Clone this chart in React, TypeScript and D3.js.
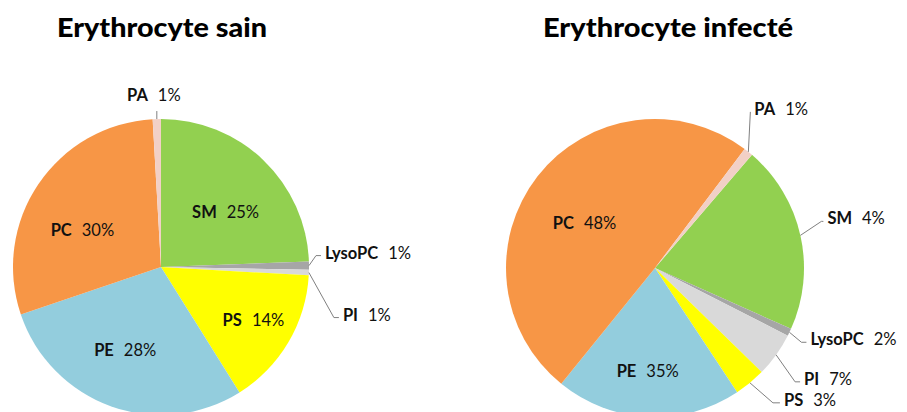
import React, { useEffect, useRef } from 'react';
import * as d3 from 'd3';

const lipids = ['SM', 'LysoPC', 'PI', 'PS', 'PE', 'PC', 'PA'];
const colors = ['#92D050', '#A6A6A6', '#D9D9D9', '#FFFF00', '#93CDDD', '#F79646', '#F2D0C6'];

// slice sizes as they are drawn (%)
const sainSlices = [24.4, 0.9, 0.6, 15.2, 28.7, 29.3, 0.9];
const infecteSlices = [20.4, 0.8, 4.8, 3.4, 20.1, 49.4, 1.0];

// percentages printed on the labels
const sainLabels = ['25%', '1%', '1%', '14%', '28%', '30%', '1%'];
const infecteLabels = ['4%', '2%', '7%', '3%', '35%', '48%', '1%'];

const titles = ['Erythrocyte sain', 'Erythrocyte infecté'];

// label placement: 'in' = nudge from centroid, 'out' = elbow offset from arc edge, 'top' = text above
const sainLayout = [
  { mode: 'in', dx: 3, dy: 9 },
  { mode: 'out', dx: 7, dy: -10, stub: 5 },
  { mode: 'out', dx: 25, dy: 45, stub: 5 },
  { mode: 'in', dx: 16, dy: 8 },
  { mode: 'in', dx: -6, dy: -1 },
  { mode: 'in', dx: -5, dy: 13 },
  { mode: 'top', dx: 0, dy: -8, stub: 0 },
];
const infecteLayout = [
  { mode: 'out', dx: 21, dy: -14, stub: 2 },
  { mode: 'out', dx: 12, dy: 10, stub: 5 },
  { mode: 'out', dx: 19, dy: 27, stub: 5 },
  { mode: 'out', dx: 23, dy: 20, stub: 7 },
  { mode: 'in', dx: -3, dy: 14 },
  { mode: 'in', dx: 0, dy: 10 },
  { mode: 'out', dx: 2, dy: -40, stub: 0 },
];

const FONT = 'Lato, sans-serif';

function App() {
  const svgRef = useRef(null);

  useEffect(() => {
    const width = 907;
    const height = 412;
    const svg = d3.select(svgRef.current);
    svg.selectAll('*').remove();
    svg.attr('width', width).attr('height', height);

    svg.append('rect').attr('width', width).attr('height', height).attr('fill', '#fff');

    const pies = [
      { title: titles[0], slices: sainSlices, labels: sainLabels, layout: sainLayout,
        cx: 161, cy: 267, r: 148, start: 0, titleX: 162, titleW: 210 },
      { title: titles[1], slices: infecteSlices, labels: infecteLabels, layout: infecteLayout,
        cx: 655, cy: 268, r: 149, start: 40.6, titleX: 668, titleW: 250 },
    ];

    pies.forEach((p) => {
      svg.append('text')
        .attr('x', p.titleX)
        .attr('y', 37)
        .attr('text-anchor', 'middle')
        .attr('font-family', FONT)
        .attr('font-weight', 900)
        .attr('font-size', 27)
        .attr('textLength', p.titleW)
        .attr('lengthAdjust', 'spacingAndGlyphs')
        .attr('fill', '#000')
        .text(p.title);

      const a0 = (p.start * Math.PI) / 180;
      const pie = d3.pie<number>().sort(null).value((d) => d).startAngle(a0).endAngle(a0 + 2 * Math.PI);
      const arcs = pie(p.slices);
      const arc = d3.arc<d3.PieArcDatum<number>>().innerRadius(0).outerRadius(p.r);
      const labelArc = d3.arc<d3.PieArcDatum<number>>().innerRadius(p.r * 0.6).outerRadius(p.r * 0.6);

      const g = svg.append('g').attr('transform', `translate(${p.cx},${p.cy})`);

      g.selectAll('path.slice')
        .data(arcs)
        .enter()
        .append('path')
        .attr('class', 'slice')
        .attr('d', arc)
        .attr('fill', (d, i) => colors[i]);

      arcs.forEach((d, i) => {
        const lay = p.layout[i];
        const t = g.append('text')
          .attr('font-family', FONT)
          .attr('font-size', 16.5)
          .attr('fill', '#111');

        if (lay.mode === 'in') {
          const [x, y] = labelArc.centroid(d);
          t.attr('x', x + lay.dx).attr('y', y + lay.dy + 6).attr('text-anchor', 'middle');
        } else {
          const mid = (d.startAngle + d.endAngle) / 2;
          const ax = Math.sin(mid) * p.r;
          const ay = -Math.cos(mid) * p.r;
          const ex = ax + lay.dx;
          const ey = ay + lay.dy;
          const pts = [[ax, ay], [ex, ey], [ex + lay.stub, ey]];
          g.append('path')
            .attr('d', d3.line()(pts as [number, number][]))
            .attr('fill', 'none')
            .attr('stroke', '#808080')
            .attr('stroke-width', 1);
          if (lay.mode === 'top') {
            t.attr('x', ex - 3).attr('y', ey - 10).attr('text-anchor', 'middle');
          } else {
            t.attr('x', ex + lay.stub + 4).attr('y', ey + 3).attr('text-anchor', 'start');
          }
        }

        t.append('tspan').attr('font-weight', 700).text(lipids[i]);
        t.append('tspan').attr('dx', 10).text(p.labels[i]);
      });
    });
  }, []);

  return <svg ref={svgRef} style={{ position: 'absolute', left: 0, top: 0, display: 'block' }}></svg>;
}

export default App;
